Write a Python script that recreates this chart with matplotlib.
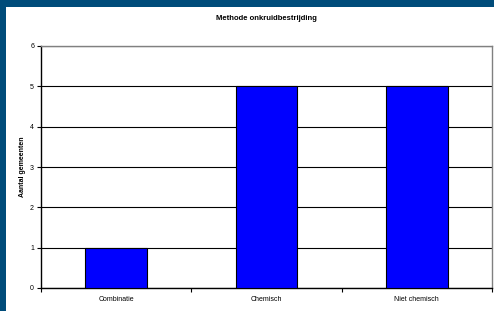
import matplotlib
matplotlib.use("Agg")
import matplotlib.pyplot as plt
import numpy as np
from matplotlib.patches import Rectangle

categories = ["Combinatie", "Chemisch", "Niet chemisch"]
values = [1, 5, 5]
yticks = [0, 1, 2, 3, 4, 5, 6]

plt.rcParams.update({
    "font.family": ["Liberation Sans", "DejaVu Sans"],
    "font.size": 5,
})

fig = plt.figure(figsize=(4.94, 3.11), dpi=100)
fig.patch.set_facecolor("#004c7a")
# white inner panel
fig.patches.append(Rectangle((6 / 494, 0), 1 - 6 / 494, (311 - 7) / 311,
                             transform=fig.transFigure, facecolor="white",
                             edgecolor="none", zorder=-1))

ax = fig.add_axes([41 / 494, (311 - 288) / 311, (492 - 41) / 494, (288 - 46) / 311])
ax.set_zorder(2)
x = np.arange(len(categories))
ax.bar(x, values, width=0.41, color="#0000ff", edgecolor="black", linewidth=0.8, zorder=3)

ax.set_xlim(-0.5, len(categories) - 0.5)
ax.set_ylim(0, 6)
ax.set_yticks(yticks)
ax.set_yticklabels([str(t) for t in yticks])
ax.set_xticks(x)
ax.set_xticklabels(categories)
ax.tick_params(axis="x", length=0, pad=6)
ax.tick_params(axis="y", length=3, width=0.8, pad=2)
# category boundary ticks
ax.set_xticks(np.arange(len(categories) + 1) - 0.5, minor=True)
ax.tick_params(axis="x", which="minor", length=3, width=0.8)

ax.grid(True, axis="y", color="black", linewidth=0.8, zorder=0)
for s in ["top", "right"]:
    ax.spines[s].set_color("#808080")
    ax.spines[s].set_linewidth(1.0)
for s in ["left", "bottom"]:
    ax.spines[s].set_color("black")
    ax.spines[s].set_linewidth(1.0)

ax.set_ylabel("Aantal gemeenten", fontweight="bold", fontsize=5, labelpad=3)
fig.text((41 + 492) / 2 / 494, (311 - 19) / 311, "Methode onkruidbestrijding",
         ha="center", va="center", fontweight="bold", fontsize=5.5)

fig.savefig("out.png", dpi=100, facecolor=fig.get_facecolor())
